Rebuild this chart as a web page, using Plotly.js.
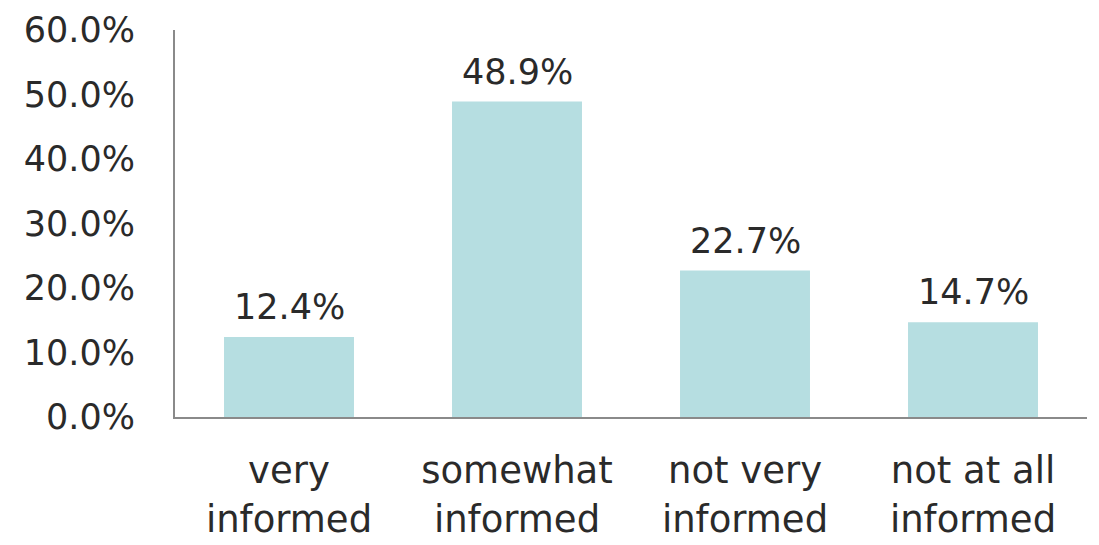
<!DOCTYPE html>
<html>
<head>
<meta charset="utf-8">
<script src="https://cdn.plot.ly/plotly-3.0.1.min.js"></script>
<style>html,body{margin:0;padding:0;background:#fff;}#chart{width:1099px;height:545px;}</style>
</head>
<body>
<div id="chart"></div>
<script>
const categories = ["very<br>informed", "somewhat<br>informed", "not very<br>informed", "not at all<br>informed"];
const values = [12.4, 48.9, 22.7, 14.7];
const valueLabels = ["12.4%", "48.9%", "22.7%", "14.7%"];
const yTickVals = [0, 10, 20, 30, 40, 50, 60];
const yTickText = ["0.0%", "10.0%", "20.0%", "30.0%", "40.0%", "50.0%", "60.0%"];

const FONT = "DejaVu Sans, sans-serif";
const TEXT_COLOR = "#2a2a2a";
const trace = {
  type: "bar",
  x: categories,
  y: values,
  marker: {color: "#b6dee1"},
  hoverinfo: "none"
};

const annotations = categories.map((c, i) => ({
  x: c, y: values[i], xref: "x", yref: "y",
  text: valueLabels[i], showarrow: false,
  yanchor: "bottom", yshift: 8,
  font: {family: FONT, size: 35, color: TEXT_COLOR}
}));

const layout = {
  width: 1099, height: 545,
  margin: {l: 175, r: 12, t: 30, b: 128},
  paper_bgcolor: "#fff", plot_bgcolor: "#fff",
  bargap: 0.43,
  showlegend: false,
  font: {family: FONT, color: TEXT_COLOR},
  annotations: annotations,
  xaxis: {
    showline: true, linecolor: "#8a8a8a", linewidth: 2,
    ticks: "", showgrid: false, zeroline: false,
    tickfont: {family: FONT, size: 37, color: TEXT_COLOR},
    ticklabelstandoff: 20
  },
  yaxis: {
    range: [0, 60],
    showline: true, linecolor: "#8a8a8a", linewidth: 2,
    showgrid: false, zeroline: false, ticks: "",
    tickvals: yTickVals, ticktext: yTickText,
    tickfont: {family: FONT, size: 35, color: TEXT_COLOR},
    ticklabelstandoff: 31
  }
};

Plotly.newPlot("chart", [trace], layout, {displayModeBar: false, staticPlot: true});
</script>
</body>
</html>
